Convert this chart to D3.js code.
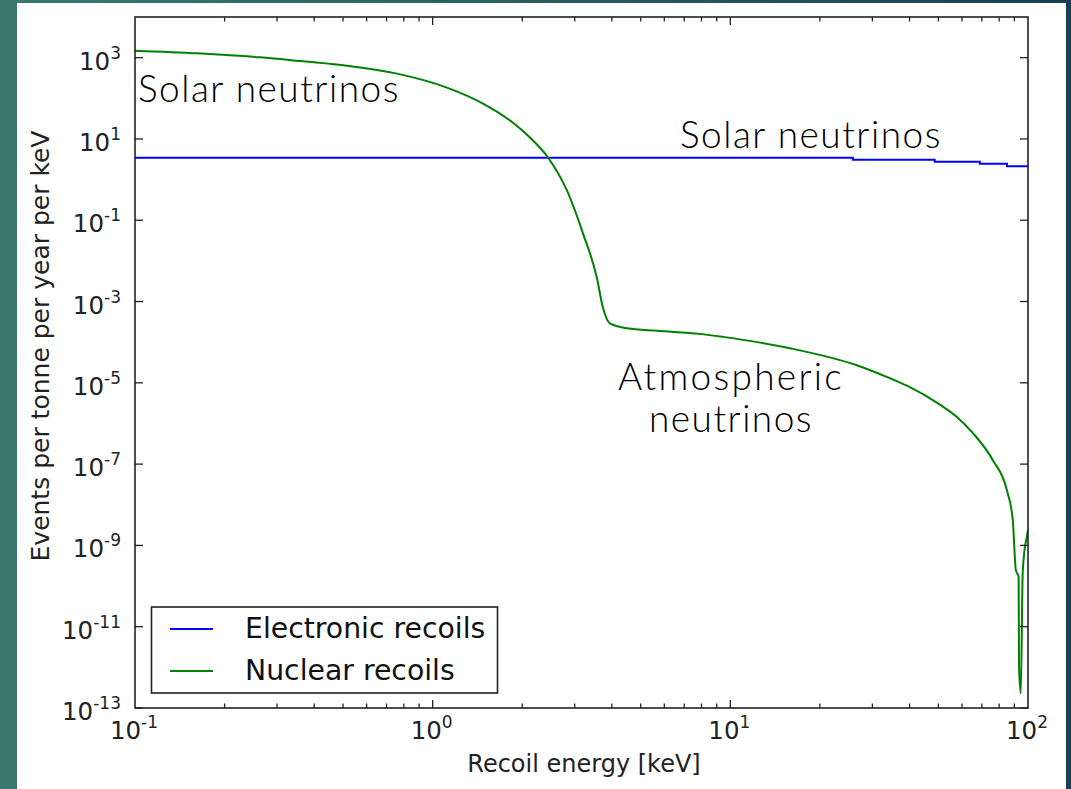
<!DOCTYPE html>
<html>
<head>
<meta charset="utf-8">
<script src="https://cdnjs.cloudflare.com/ajax/libs/d3/7.8.5/d3.min.js"></script>
<style>
  html, body { margin: 0; padding: 0; background: #2c6064; }
  svg { display: block; }
</style>
</head>
<body>
<div id="chart"></div>
<script>
// Electronic recoils (blue, stepped)
const electronicEnergy = [0.1, 25.8, 48.6, 68.9, 85, 100];
const electronicRate = [3.44, 3.07, 2.74, 2.44, 2.13, 2.13];

// Nuclear recoils (green)
const nuclearEnergy = [0.1, 0.1615, 0.263, 0.367, 0.515, 0.759, 1.117, 1.476, 1.862, 2.123, 2.44, 2.825, 3.2, 3.56, 3.73, 3.94, 4.5, 5.67, 7.9, 9.44, 15.85, 26.6, 34.3, 39.2, 50.6, 57.7, 65.3, 76.2, 84.9, 88.9, 91.0, 93.0, 93.3, 94.6, 95.9, 97.1, 98.9, 100];
const nuclearRate = [1486, 1276, 1016, 811, 636, 404, 183, 74, 25, 10.8, 3.5, 0.54, 0.047, 0.0039, 7.2e-4, 2.9e-4, 2.2e-4, 1.9e-4, 1.6e-4, 1.35e-4, 7.1e-5, 2.7e-5, 1.3e-5, 8.5e-6, 2.9e-6, 1.45e-6, 5.8e-7, 1.25e-7, 2.3e-8, 4.2e-9, 2.5e-10, 1.7e-10, 1.0e-12, 2.3e-13, 1.7e-10, 6.5e-10, 1.5e-9, 2.4e-9];

const xTickExponents = [-1, 0, 1, 2];
const yTickExponents = [3, 1, -1, -3, -5, -7, -9, -11, -13];

const legendLabels = ['Electronic recoils', 'Nuclear recoils'];
const seriesColors = ['#0000ff', '#008000'];

const W = 1071, H = 789;
const pLeft = 135, pRight = 1028, pTop = 17, pBottom = 708;

const svg = d3.select('#chart').append('svg')
    .attr('width', W)
    .attr('height', H);

// background gradient
const defs = svg.append('defs');
const grad = defs.append('linearGradient').attr('id', 'bg').attr('x1', 0).attr('x2', 1).attr('y1', 0).attr('y2', 0);
grad.append('stop').attr('offset', '0%').attr('stop-color', '#3c786f');
grad.append('stop').attr('offset', '100%').attr('stop-color', '#183f55');
svg.append('rect').attr('width', W).attr('height', H).attr('fill', 'url(#bg)');
svg.append('rect').attr('x', 17).attr('y', 3).attr('width', 1049).attr('height', H - 3).attr('fill', '#ffffff');

const x = d3.scaleLog().domain([0.1, 100]).range([pLeft, pRight]);
const y = d3.scaleLog().domain([1e-13, 1e4]).range([pBottom, pTop]);

const clip = defs.append('clipPath').attr('id', 'plotclip');
clip.append('rect').attr('x', pLeft).attr('y', pTop).attr('width', pRight - pLeft).attr('height', pBottom - pTop);

// lines
const blueLine = d3.line()
    .x((d, i) => x(electronicEnergy[i]))
    .y(d => y(d))
    .curve(d3.curveStepAfter);

const greenLine = d3.line()
    .x((d, i) => x(nuclearEnergy[i]))
    .y(d => y(d))
    .curve(d3.curveMonotoneX);

const plot = svg.append('g').attr('clip-path', 'url(#plotclip)');
plot.append('path').datum(electronicRate)
    .attr('d', blueLine).attr('fill', 'none')
    .attr('stroke', seriesColors[0]).attr('stroke-width', 2);
plot.append('path').datum(nuclearRate)
    .attr('d', greenLine).attr('fill', 'none')
    .attr('stroke', seriesColors[1]).attr('stroke-width', 2);

// ticks (inward, all four sides)
const majorX = xTickExponents.map(e => Math.pow(10, e));
const minorX = [];
for (let e = -1; e < 2; e++) {
    for (let m = 2; m <= 9; m++) minorX.push(m * Math.pow(10, e));
}
const ticks = svg.append('g').attr('stroke', '#222').attr('stroke-width', 1.3);
majorX.slice(1, -1).forEach(v => {
    ticks.append('line').attr('x1', x(v)).attr('x2', x(v)).attr('y1', pBottom).attr('y2', pBottom - 8);
    ticks.append('line').attr('x1', x(v)).attr('x2', x(v)).attr('y1', pTop).attr('y2', pTop + 8);
});
minorX.forEach(v => {
    ticks.append('line').attr('x1', x(v)).attr('x2', x(v)).attr('y1', pBottom).attr('y2', pBottom - 4.5);
    ticks.append('line').attr('x1', x(v)).attr('x2', x(v)).attr('y1', pTop).attr('y2', pTop + 4.5);
});
yTickExponents.forEach(e => {
    const v = Math.pow(10, e);
    ticks.append('line').attr('x1', pLeft).attr('x2', pLeft + 8).attr('y1', y(v)).attr('y2', y(v));
    ticks.append('line').attr('x1', pRight).attr('x2', pRight - 8).attr('y1', y(v)).attr('y2', y(v));
});

// frame
svg.append('rect').attr('x', pLeft).attr('y', pTop).attr('width', pRight - pLeft).attr('height', pBottom - pTop)
    .attr('fill', 'none').attr('stroke', '#222').attr('stroke-width', 1.6);

// tick labels
const tickFont = 'DejaVu Sans, sans-serif';
function powLabel(g, e) {
    g.append('tspan').text('10');
    g.append('tspan').attr('dy', -11).attr('font-size', 17).text(String(e));
}
xTickExponents.forEach(e => {
    const t = svg.append('text')
        .attr('x', x(Math.pow(10, e)) - 1).attr('y', 739)
        .attr('text-anchor', 'middle')
        .attr('font-family', tickFont).attr('font-size', 24.5).attr('fill', '#222');
    powLabel(t, e);
});
yTickExponents.forEach(e => {
    const t = svg.append('text')
        .attr('x', 121).attr('y', y(Math.pow(10, e)) + 12)
        .attr('text-anchor', 'end')
        .attr('font-family', tickFont).attr('font-size', 24.5).attr('fill', '#222');
    powLabel(t, e);
});

// axis titles
svg.append('text')
    .attr('x', 584).attr('y', 772)
    .attr('text-anchor', 'middle')
    .attr('font-family', tickFont).attr('font-size', 24).attr('fill', '#222')
    .text('Recoil energy [keV]');
svg.append('text')
    .attr('transform', 'translate(49,346) rotate(-90)')
    .attr('text-anchor', 'middle')
    .attr('font-family', tickFont).attr('font-size', 25).attr('fill', '#222')
    .text('Events per tonne per year per keV');

// legend
const lg = svg.append('g');
lg.append('rect').attr('x', 151.5).attr('y', 607).attr('width', 346).attr('height', 86)
    .attr('fill', '#fff').attr('stroke', '#222').attr('stroke-width', 1.6);
legendLabels.forEach((lab, i) => {
    const ly = 629 + i * 42;
    lg.append('line').attr('x1', 170).attr('x2', 213).attr('y1', ly).attr('y2', ly)
        .attr('stroke', seriesColors[i]).attr('stroke-width', 2);
    lg.append('text').attr('x', 245).attr('y', ly + 9)
        .attr('font-family', tickFont).attr('font-size', 28.3).attr('fill', '#111')
        .text(lab);
});

// annotations
const annoFont = 'Lato, "Open Sans", sans-serif';
function anno(txt, ax, ay, anchor, sp) {
    svg.append('text').attr('x', ax).attr('y', ay)
        .attr('text-anchor', anchor || 'start')
        .attr('font-family', annoFont).attr('font-weight', 300).attr('font-size', 37)
        .attr('letter-spacing', sp).attr('fill', '#000')
        .text(txt);
}
anno('Solar neutrinos', 138, 102, 'start', 1.5);
anno('Solar neutrinos', 680, 148, 'start', 1.5);
anno('Atmospheric', 731, 390, 'middle', 2.3);
anno('neutrinos', 731, 432, 'middle', 1.5);
</script>
</body>
</html>
